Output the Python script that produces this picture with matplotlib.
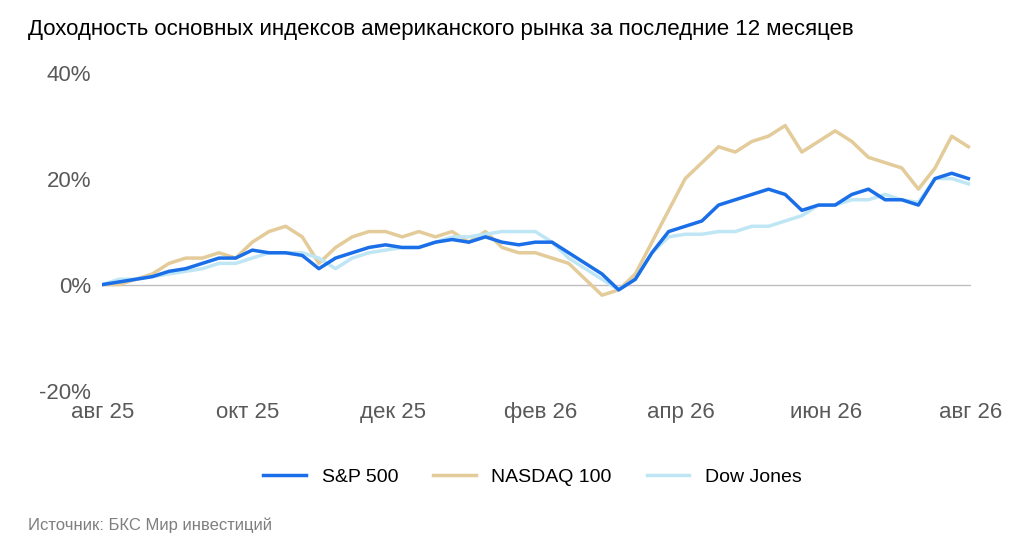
import numpy as np
import pandas as pd
import matplotlib
matplotlib.use("Agg")
import matplotlib.pyplot as plt

plt.rcParams["font.family"] = ["Liberation Sans", "DejaVu Sans"]

dates = pd.date_range("2025-08-01", periods=53, freq="7D")

sp500 = [0, 0.5, 1, 1.5, 2.5, 3, 4, 5, 5, 6.5, 6, 6, 5.5, 3, 5, 6, 7, 7.5, 7, 7, 8, 8.5, 8, 9,
         8, 7.5, 8, 8, 6, 4, 2, -1, 1, 6, 10, 11, 12, 15, 16, 17, 18, 17, 14, 15, 15, 17, 18,
         16, 16, 15, 20, 21, 20]
nasdaq = [0, 0, 1, 2, 4, 5, 5, 6, 5, 8, 10, 11, 9, 4, 7, 9, 10, 10, 9, 10, 9, 10, 8, 10,
          7, 6, 6, 5, 4, 1, -2, -1, 2, 8, 14, 20, 23, 26, 25, 27, 28, 30, 25, 27, 29, 27,
          24, 23, 22, 18, 22, 28, 26]
dow = [0, 1, 1, 1.5, 2, 2.5, 3, 4, 4, 5, 6, 6, 6, 5, 3, 5, 6, 6.5, 7, 7, 8, 9, 9, 9.5,
       10, 10, 10, 8, 5, 3, 1, -1, 1, 6, 9, 9.5, 9.5, 10, 10, 11, 11, 12, 13, 15, 15, 16,
       16, 17, 16, 15.5, 20, 20, 19]

tick_dates = pd.date_range("2025-08-01", "2026-08-01", freq="2MS")
tick_labels = ["авг 25", "окт 25", "дек 25", "фев 26", "апр 26", "июн 26", "авг 26"]

fig = plt.figure(figsize=(10.24, 5.58), dpi=100)
ax = fig.add_axes([0.1, 0.3, 0.848, 0.57])
ax.axhline(0, color="#bfbfbf", lw=1)
ax.plot(dates, nasdaq, color="#e3cb9a", lw=2.5, label="NASDAQ 100")
ax.plot(dates, dow, color="#bfe6f5", lw=2.5, label="Dow Jones")
ax.plot(dates, sp500, color="#1a6ee8", lw=2.5, label="S&P 500")
ax.set_ylim(-20, 40)
ax.set_yticks([-20, 0, 20, 40])
ax.set_yticklabels(["-20%", "0%", "20%", "40%"])
ax.set_xlim(dates[0], pd.Timestamp("2026-08-01"))
ax.set_xticks(tick_dates)
ax.set_xticklabels(tick_labels)
ax.tick_params(length=0, labelsize=16, colors="#595959", pad=8)
for s in ax.spines.values():
    s.set_visible(False)

h, l = ax.get_legend_handles_labels()
order = [2, 0, 1]
fig.legend([h[i] for i in order], [l[i] for i in order], loc="center", bbox_to_anchor=(0.52, 0.145),
           ncol=3, frameon=False, fontsize=14, handlelength=2.2, columnspacing=1.8)
fig.text(0.027, 0.948, "Доходность основных индексов американского рынка за последние 12 месяцев",
         fontsize=16, va="center")
fig.text(0.027, 0.058, "Источник: БКС Мир инвестиций", fontsize=12, color="#7f7f7f", va="center")
fig.savefig("out.png")
